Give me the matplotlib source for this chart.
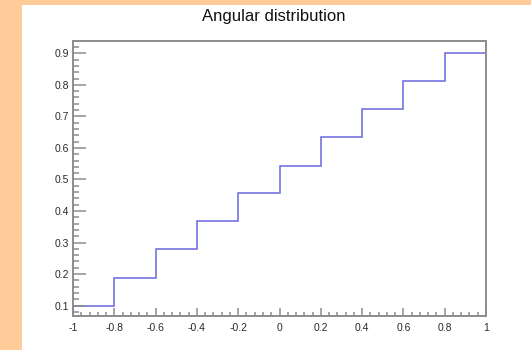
import numpy as np
import matplotlib
matplotlib.use("Agg")
import matplotlib.pyplot as plt
from matplotlib.patches import Rectangle
from matplotlib.ticker import MultipleLocator

plt.rcParams['font.family'] = ['Liberation Sans', 'DejaVu Sans']
plt.rcParams['axes.unicode_minus'] = False

# bin edges and contents
bin_edges = [-1.0, -0.8, -0.6, -0.4, -0.2, 0.0, 0.2, 0.4, 0.6, 0.8, 1.0]
bin_values = [0.1, 0.189, 0.278, 0.367, 0.456, 0.544, 0.633, 0.722, 0.811, 0.9]
x_ticks = [-1, -0.8, -0.6, -0.4, -0.2, 0, 0.2, 0.4, 0.6, 0.8, 1]
x_labels = ["-1", "-0.8", "-0.6", "-0.4", "-0.2", "0", "0.2", "0.4", "0.6", "0.8", "1"]
y_ticks = [0.1, 0.2, 0.3, 0.4, 0.5, 0.6, 0.7, 0.8, 0.9]
y_labels = ["0.1", "0.2", "0.3", "0.4", "0.5", "0.6", "0.7", "0.8", "0.9"]

fig = plt.figure(figsize=(5.31, 3.5), dpi=100)
fig.patch.set_facecolor("#ffcc99")
# white canvas, kept behind the axes
fig.patches.append(Rectangle((22 / 531, 0), 1 - 22 / 531, 1 - 5 / 350,
                             transform=fig.transFigure, facecolor="white",
                             edgecolor="none", zorder=-5))

ax = fig.add_axes([73 / 531, 1 - 316 / 350, (486 - 73) / 531, (316 - 41.3) / 350])
ax.set_facecolor("white")

ax.stairs(bin_values, bin_edges, baseline=None, color="#7474e0", lw=1.2)

ax.set_xlim(-1, 1)
ax.set_ylim(0.067, 0.938)

axis_col = "#8c8c8c"
for s in ax.spines.values():
    s.set_color(axis_col)
    s.set_linewidth(1.4)

ax.set_xticks(x_ticks)
ax.set_xticklabels(x_labels)
ax.set_yticks(y_ticks)
ax.set_yticklabels(y_labels)
ax.xaxis.set_minor_locator(MultipleLocator(0.04))
ax.yaxis.set_minor_locator(MultipleLocator(0.02))

ax.tick_params(axis='x', which='major', direction='in', length=6, width=1.1,
               color=axis_col, labelsize=7.5, labelcolor="#2a2a2a", pad=5)
ax.tick_params(axis='x', which='minor', direction='in', length=3, width=1.1, color=axis_col)
ax.tick_params(axis='y', which='major', direction='in', length=9, width=1.1,
               color=axis_col, labelsize=7.5, labelcolor="#2a2a2a", pad=3)
ax.tick_params(axis='y', which='minor', direction='in', length=4.5, width=1.1, color=axis_col)

fig.text(0.516, 0.954, "Angular distribution", ha="center", va="center", fontsize=12, color="#111111")

fig.savefig("out.png", dpi=100, facecolor=fig.get_facecolor())
